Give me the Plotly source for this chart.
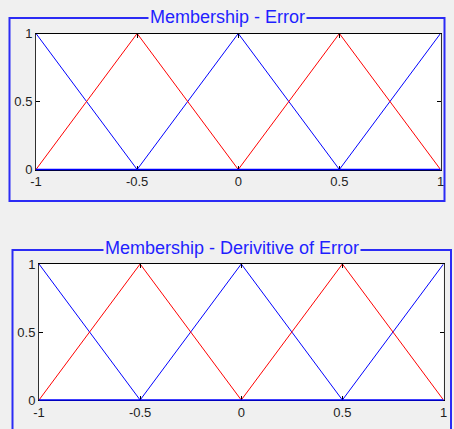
import plotly.graph_objects as go

# Triangular membership functions on the universe [-1, 1]
x_points = [-1, -0.5, 0, 0.5, 1]
blue_mf = [1, 0, 1, 0, 1]
red_mf = [0, 1, 0, 1, 0]

x_ticks = [-1, -0.5, 0, 0.5, 1]
x_tick_text = ["-1", "-0.5", "0", "0.5", "1"]
y_ticks = [0, 0.5, 1]
y_tick_text = ["0", "0.5", "1"]

panel_titles = ["Membership - Error", "Membership - Derivitive of Error"]

W, H = 454, 429
BG = "#f0f0f0"
FRAME = "#2b2bf5"
TITLE_C = "#1f1fff"
TICK_FONT = dict(family="Liberation Sans, Arial, sans-serif", size=13, color="#1e1e1e")


def px(x):
    return x / W


def py(y):
    return 1 - y / H


# Pixel boxes for each panel: plot area (x0, y0, x1, y1), frame box, title centre
panels = [
    dict(plot=(36, 33.5, 440.5, 169.5), frame=(9.5, 18, 444.5, 201), title=(227, 17)),
    dict(plot=(39, 264, 443.5, 400), frame=(12.5, 250, 451, 432), title=(232, 248)),
]

fig = go.Figure()
shapes = []
annotations = []

for i, p in enumerate(panels, start=1):
    xa = "x" if i == 1 else f"x{i}"
    ya = "y" if i == 1 else f"y{i}"
    fig.add_trace(go.Scatter(x=x_points, y=blue_mf, mode="lines",
                             line=dict(color="#0000ff", width=1),
                             xaxis=xa, yaxis=ya, showlegend=False))
    fig.add_trace(go.Scatter(x=x_points, y=red_mf, mode="lines",
                             line=dict(color="#ff0000", width=1),
                             xaxis=xa, yaxis=ya, showlegend=False))

    x0, y0, x1, y1 = p["plot"]
    key = "" if i == 1 else str(i)
    fig.update_layout(**{
        f"xaxis{key}": dict(
            domain=[px(x0), px(x1)], anchor=ya, range=[-1, 1],
            tickvals=x_ticks, ticktext=x_tick_text,
            showgrid=False, zeroline=False, automargin=False,
            showline=True, linecolor="black", linewidth=1, mirror="allticks",
            ticks="inside", ticklen=4, tickcolor="black",
            tickfont=TICK_FONT, fixedrange=True,
        ),
        f"yaxis{key}": dict(
            domain=[py(y1), py(y0)], anchor=xa, range=[0, 1],
            tickvals=y_ticks, ticktext=y_tick_text,
            showgrid=False, zeroline=False, automargin=False,
            showline=True, linecolor="#303030", linewidth=1, mirror="allticks",
            ticks="inside", ticklen=4, tickcolor="black",
            tickfont=TICK_FONT, fixedrange=True,
        ),
    })

    # blue baseline of the axes
    shapes.append(dict(type="line", xref=f"{xa} domain", yref=f"{ya} domain",
                       x0=0, x1=1, y0=0, y1=0,
                       line=dict(color="#0000ff", width=1.5), layer="above"))

    # panel frame
    fx0, fy0, fx1, fy1 = p["frame"]
    shapes.append(dict(type="rect", xref="paper", yref="paper",
                       x0=px(fx0), x1=px(fx1), y0=py(fy1), y1=py(fy0),
                       line=dict(color=FRAME, width=2), layer="below"))

    tx, ty = p["title"]
    annotations.append(dict(text=panel_titles[i - 1], xref="paper", yref="paper",
                            x=px(tx), y=py(ty), xanchor="center", yanchor="middle",
                            showarrow=False, bgcolor=BG, borderpad=1,
                            font=dict(family="Liberation Sans, Arial, sans-serif",
                                      size=18, color=TITLE_C)))

fig.update_layout(
    width=W, height=H,
    margin=dict(l=0, r=0, t=0, b=0, autoexpand=False),
    paper_bgcolor=BG, plot_bgcolor="white",
    shapes=shapes, annotations=annotations,
)

fig.write_html("out.html", config={"displayModeBar": False})
